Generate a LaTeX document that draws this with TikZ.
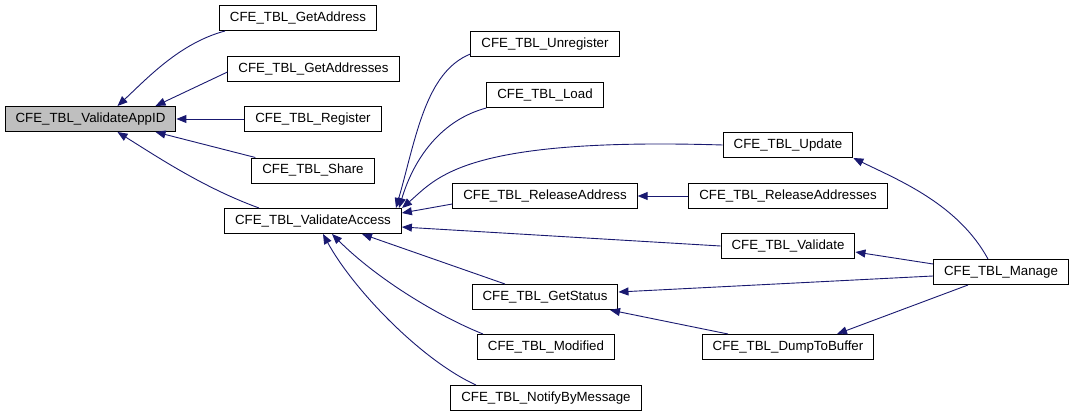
\documentclass[tikz,border=0pt]{standalone}
\usepackage{fontspec}
\setmainfont{Liberation Sans}
\usepackage{tikz}
\usetikzlibrary{arrows.meta}
\definecolor{callblue}{HTML}{191970}
\definecolor{focusgray}{HTML}{BFBFBF}

\begin{document}
\begin{tikzpicture}[
            x=1pt, y=-1pt, % pixel-like grid
            func/.style={rectangle, draw=black, fill=white, line width=1pt, minimum height=25pt, inner xsep=10.5pt, font=\fontsize{13.3}{15}\selectfont},
            call/.style={draw=callblue, line width=0.9pt, -{Triangle[length=10pt,width=8pt]}}
        ]
        \useasboundingbox (0,0) rectangle (1073,417);

        % Function being documented
        \node[func, fill=focusgray] (appid) at (90.5,119) {CFE\_TBL\_ValidateAppID};

        % Direct callers
        \node[func] (ga) at (298,18) {CFE\_TBL\_GetAddress};
        \node[func] (gas) at (313.5,69) {CFE\_TBL\_GetAddresses};
        \node[func] (reg) at (313,119) {CFE\_TBL\_Register};
        \node[func] (share) at (313,170.5) {CFE\_TBL\_Share};
        \node[func] (access) at (313,221) {CFE\_TBL\_ValidateAccess};

        % Callers of ValidateAccess
        \node[func] (unreg) at (545,44) {CFE\_TBL\_Unregister};
        \node[func] (load) at (545,95) {CFE\_TBL\_Load};
        \node[func] (reladdr) at (545,196) {CFE\_TBL\_ReleaseAddress};
        \node[func] (gs) at (545,297) {CFE\_TBL\_GetStatus};
        \node[func] (mod) at (546,347) {CFE\_TBL\_Modified};
        \node[func] (notify) at (546,398) {CFE\_TBL\_NotifyByMessage};

        % Further callers
        \node[func] (update) at (788,145) {CFE\_TBL\_Update};
        \node[func] (reladdrs) at (788,196) {CFE\_TBL\_ReleaseAddresses};
        \node[func] (val) at (788,246) {CFE\_TBL\_Validate};
        \node[func] (dump) at (788,347) {CFE\_TBL\_DumpToBuffer};
        \node[func] (manage) at (1001,272) {CFE\_TBL\_Manage};

        % Calls into ValidateAppID
        \draw[call] ([xshift=6pt]ga.south west) .. controls +(-45,12) and +(30,-28) .. ([xshift=27pt]appid.north);
        \draw[call] ([yshift=-3pt]gas.west) -- ([xshift=65pt]appid.north);
        \draw[call] (reg.west) -- (appid.east);
        \draw[call] ([xshift=4pt]share.north west) -- ([xshift=65pt]appid.south);
        \draw[call] ([xshift=-54pt]access.north) .. controls +(-55,-20) and +(40,25) .. ([xshift=27pt]appid.south);

        % Calls into ValidateAccess
        \draw[call] ([yshift=3pt]unreg.south west) .. controls +(-45,18) and +(20,-70) .. ([xshift=83pt]access.north);
        \draw[call] (load.south west) .. controls +(-45,12) and +(15,-50) .. ([xshift=86pt]access.north);
        \draw[call] (update.west) .. controls +(-260,-8) and +(35,-30) .. ([xshift=89pt]access.north);
        \draw[call] ([yshift=-8pt]reladdr.west) -- ([yshift=8pt]access.east);
        \draw[call] (val.west) -- ([yshift=-6pt]access.east);
        \draw[call] ([xshift=-40pt]gs.north) -- ([xshift=49pt]access.south);
        \draw[call] ([xshift=-63pt]mod.north) .. controls +(-45,-18) and +(45,45) .. ([xshift=19pt]access.south);
        \draw[call] ([xshift=-70pt]notify.north) .. controls +(-55,-25) and +(30,55) .. ([xshift=10pt]access.south);

        % Outer calls
        \draw[call] (reladdrs.west) -- (reladdr.east);
        \draw[call] ([xshift=-13pt]manage.north) .. controls +(-30,-55) and +(45,22) .. (update.south east);
        \draw[call] ([yshift=8pt]manage.west) -- ([yshift=-6pt]val.east);
        \draw[call] ([yshift=-4pt]manage.west) -- ([yshift=5pt]gs.east);
        \draw[call] ([xshift=-33pt]manage.south) -- ([xshift=49pt]dump.north);
        \draw[call] ([xshift=-60pt]dump.north) -- ([xshift=65pt]gs.south);

        \end{tikzpicture}
\end{document}
